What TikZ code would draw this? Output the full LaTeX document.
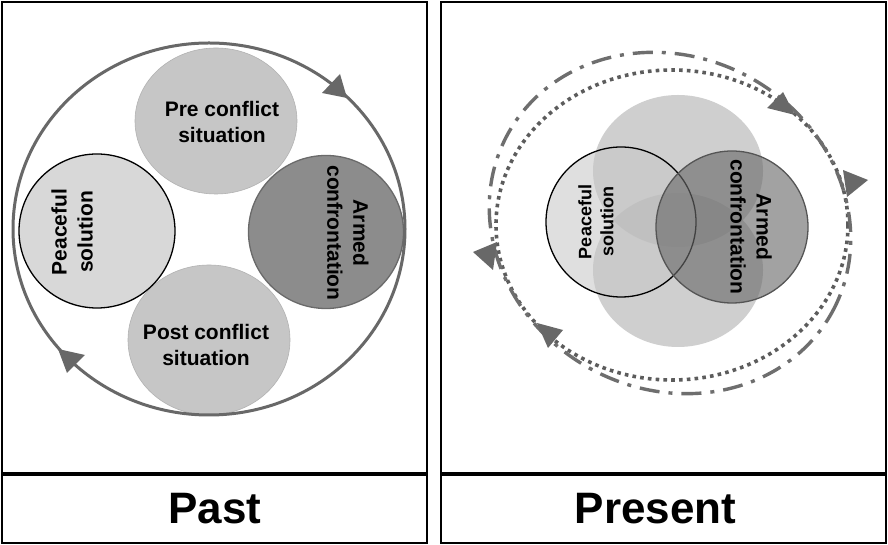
\documentclass[tikz,border=0pt]{standalone}
\usepackage{fontspec}
\setmainfont{Liberation Sans}
\usetikzlibrary{shapes.geometric}
\definecolor{ringgray}{HTML}{686868}
\definecolor{dotgray}{HTML}{5C5C5C}
\definecolor{dashgray}{HTML}{6E6E6E}
\definecolor{lightfill}{HTML}{C6C6C6}
\definecolor{peacefill}{HTML}{D8D8D8}
\definecolor{armedfill}{HTML}{8C8C8C}
\definecolor{armedline}{HTML}{6A6A6A}
\begin{document}
\begin{tikzpicture}[x=1pt,y=1pt,
  panelbox/.style={draw=black,line width=1.8pt,rectangle,inner sep=0pt},
  blob/.style={ellipse,inner sep=0pt},
  label21/.style={font=\fontsize{21}{26}\selectfont\bfseries,align=center,inner sep=0pt},
  label18/.style={font=\fontsize{18}{22}\selectfont\bfseries,align=center,inner sep=0pt},
  caption/.style={font=\fontsize{44}{50}\selectfont\bfseries,inner sep=0pt},
  ring/.style={draw=ringgray,line width=3pt},
  tipfill/.style={fill=ringgray},
  dotring/.style={draw=dotgray,line width=3.6pt,dash pattern=on 3.6pt off 4.2pt},
  dashring/.style={draw=dashgray,line width=3.4pt,dash pattern=on 20pt off 9pt on 4pt off 9pt}
]
\useasboundingbox (0,0) rectangle (888,545);
\fill[white] (0,0) rectangle (888,545);

% panels
\node[panelbox,minimum width=425pt,minimum height=471pt] (pastbox) at (214.5,307.5) {};
\node[panelbox,minimum width=425pt,minimum height=68pt] (pastcap) at (214.5,36) {};
\node[panelbox,minimum width=445pt,minimum height=471pt] (presbox) at (663.5,307.5) {};
\node[panelbox,minimum width=445pt,minimum height=68pt] (prescap) at (663.5,36) {};
\node[caption] (pasttxt) at (215,36) {Past};
\node[caption] (prestxt) at (655.5,36) {Present};

% ---------- Past ----------
\node[blob,fill=lightfill,draw=lightfill!90!black,line width=0.6pt,minimum width=162pt,minimum height=146pt] (pre) at (216,424) {};
\node[blob,fill=lightfill,draw=lightfill!90!black,line width=0.6pt,minimum width=162pt,minimum height=150pt] (post) at (209,205) {};
\node[blob,fill=peacefill,draw=black,line width=1.3pt,minimum width=156pt,minimum height=154pt] (peace) at (97,314) {};
\node[blob,fill=armedfill,draw=armedline,line width=1.3pt,minimum width=155pt,minimum height=153pt] (armed) at (326,313) {};
\node[blob,ring,minimum width=392pt,minimum height=372pt] (cycle) at (209,316) {};
\fill[tipfill] (322,452) -- (340,471) -- (347,447) -- cycle;
\fill[tipfill] (58,196) -- (85,190) -- (67,172) -- cycle;

\node[label21] (pretxt) at (222,423) {Pre conflict\\situation};
\node[label21] (posttxt) at (206,200) {Post conflict\\situation};
\node[label21,rotate=90] (peacetxt) at (72,313) {Peaceful\\solution};
\node[label21,rotate=-90] (armedtxt) at (348,312) {Armed\\confrontation};

% ---------- Present ----------
\node[blob,fill=lightfill!85!black,fill opacity=0.55,minimum width=170pt,minimum height=152pt] (pre2) at (678,374) {};
\node[blob,fill=lightfill!85!black,fill opacity=0.55,minimum width=170pt,minimum height=154pt] (post2) at (678,275) {};
\node[blob,fill=lightfill,fill opacity=0.55,draw=black,line width=1.3pt,minimum width=150pt,minimum height=150pt] (peace2) at (621,323) {};
\node[blob,fill=armedfill!75!black,fill opacity=0.62,draw=armedline!80!black,line width=1.3pt,minimum width=152pt,minimum height=152pt] (armed2) at (732,318) {};

\node[blob,dotring,minimum width=352pt,minimum height=310pt] (dotcyc) at (672,320) {};
\node[blob,dashring,rotate=-29,minimum width=370pt,minimum height=332pt] (dashcyc) at (670,322) {};

\fill[tipfill] (767,437) -- (783,453) -- (795,430) -- cycle;
\fill[tipfill] (843,375) -- (868,365) -- (847,348) -- cycle;
\fill[tipfill] (473,293) -- (497,303) -- (493,275) -- cycle;
\fill[tipfill] (537,222) -- (563,215) -- (548,197) -- cycle;

\node[label18,rotate=90] (peacetxt2) at (596,323) {Peaceful\\solution};
\node[label21,rotate=-90] (armedtxt2) at (751,318) {Armed\\confrontation};
\end{tikzpicture}
\end{document}
